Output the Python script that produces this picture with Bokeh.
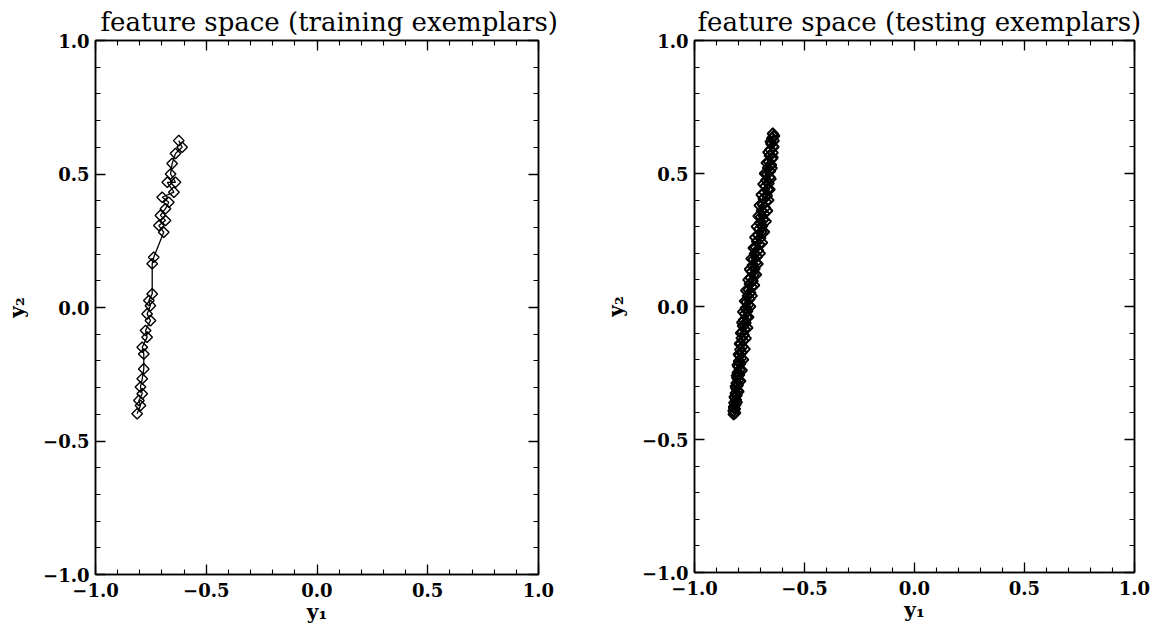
import numpy as np
from bokeh.plotting import figure
from bokeh.layouts import row
from bokeh.models import Range1d, LinearAxis, FixedTicker, CustomJSTickFormatter
from bokeh.embed import file_html
from bokeh.resources import INLINE

# ---- data ----
train_x = [-0.624, -0.609, -0.639, -0.654, -0.661, -0.639, -0.676, -0.646, -0.699, -0.669,
           -0.684, -0.707, -0.684, -0.714, -0.692, -0.737, -0.744, -0.744, -0.759, -0.752,
           -0.767, -0.752, -0.774, -0.767, -0.789, -0.782, -0.782, -0.789, -0.797, -0.789,
           -0.804, -0.797, -0.812]
train_y = [0.625, 0.600, 0.577, 0.539, 0.500, 0.469, 0.469, 0.432, 0.413, 0.394,
           0.370, 0.345, 0.326, 0.307, 0.282, 0.188, 0.164, 0.051, 0.026, 0.007,
           -0.024, -0.049, -0.086, -0.111, -0.149, -0.174, -0.230, -0.267, -0.298, -0.323,
           -0.348, -0.367, -0.398]

test_y = [-0.405, -0.398, -0.392, -0.385, -0.377, -0.370, -0.362, -0.351, -0.343, -0.334,
          -0.326, -0.315, -0.307, -0.296, -0.288, -0.276, -0.268, -0.257, -0.249, -0.238,
          -0.226, -0.215, -0.206, -0.194, -0.185, -0.173, -0.162, -0.151, -0.140, -0.128,
          -0.119, -0.107, -0.096, -0.085, -0.073, -0.062, -0.051, -0.040, -0.028, -0.017,
          -0.006, 0.006, 0.017, 0.028, 0.040, 0.051, 0.063, 0.074, 0.085, 0.096,
          0.108, 0.119, 0.131, 0.142, 0.154, 0.165, 0.177, 0.188, 0.199, 0.211,
          0.222, 0.234, 0.245, 0.257, 0.268, 0.280, 0.291, 0.303, 0.314, 0.326,
          0.337, 0.349, 0.360, 0.371, 0.383, 0.394, 0.406, 0.417, 0.429, 0.440,
          0.452, 0.463, 0.475, 0.486, 0.498, 0.509, 0.521, 0.532, 0.544, 0.555,
          0.567, 0.578, 0.590, 0.601, 0.612, 0.623, 0.633, 0.642, 0.650]
test_x = [-0.822, -0.818, -0.823, -0.816, -0.820, -0.814, -0.819, -0.811, -0.816, -0.808,
          -0.813, -0.805, -0.811, -0.803, -0.809, -0.800, -0.806, -0.797, -0.804, -0.795,
          -0.801, -0.792, -0.798, -0.788, -0.795, -0.786, -0.792, -0.782, -0.789, -0.779,
          -0.786, -0.776, -0.783, -0.772, -0.780, -0.768, -0.776, -0.764, -0.771, -0.760,
          -0.767, -0.756, -0.763, -0.750, -0.758, -0.746, -0.754, -0.740, -0.749, -0.736,
          -0.745, -0.731, -0.740, -0.727, -0.736, -0.722, -0.731, -0.716, -0.726, -0.711,
          -0.721, -0.706, -0.716, -0.701, -0.711, -0.696, -0.706, -0.692, -0.702, -0.688,
          -0.698, -0.683, -0.694, -0.679, -0.690, -0.675, -0.686, -0.671, -0.682, -0.667,
          -0.678, -0.663, -0.674, -0.659, -0.670, -0.656, -0.666, -0.652, -0.662, -0.649,
          -0.658, -0.645, -0.655, -0.643, -0.651, -0.640, -0.647, -0.638, -0.644]

test2_y = [-0.40, -0.38, -0.36, -0.34, -0.32, -0.30, -0.28, -0.26, -0.24, -0.22,
           -0.20, -0.18, -0.16, -0.14, -0.12, -0.10, -0.08, -0.06, -0.04, -0.02,
           0.00, 0.02, 0.04, 0.06, 0.08, 0.10, 0.12, 0.14, 0.16, 0.18,
           0.20, 0.22, 0.24, 0.26, 0.28, 0.30, 0.32, 0.34, 0.36, 0.38,
           0.40, 0.42, 0.44, 0.46, 0.48, 0.50, 0.52, 0.54, 0.56, 0.58,
           0.60, 0.62, 0.64]
test2_x = [-0.815, -0.821, -0.808, -0.818, -0.800, -0.813, -0.792, -0.808, -0.785, -0.804,
           -0.779, -0.799, -0.772, -0.794, -0.767, -0.789, -0.760, -0.783, -0.755, -0.779,
           -0.747, -0.771, -0.740, -0.765, -0.729, -0.755, -0.720, -0.748, -0.713, -0.741,
           -0.703, -0.731, -0.693, -0.724, -0.684, -0.717, -0.676, -0.709, -0.670, -0.704,
           -0.664, -0.695, -0.659, -0.687, -0.654, -0.680, -0.649, -0.672, -0.645, -0.664,
           -0.641, -0.654, -0.640]

major_ticks = [-1.0, -0.5, 0.0, 0.5, 1.0]
minor_ticks = [round(-1.0 + 0.1 * i, 1) for i in range(21)]
titles = ["feature space (training exemplars)", "feature space (testing exemplars)"]
x_label = "y\u2081"
y_label = "y\u2082"

SERIF = "DejaVu Serif"
FMT = "return tick.toFixed(1).replace('-', '\\u2212');"


def style_axis(ax, labels=True):
    ax.ticker = FixedTicker(ticks=major_ticks, minor_ticks=minor_ticks)
    ax.major_tick_in = 10
    ax.major_tick_out = 0
    ax.minor_tick_in = 5
    ax.minor_tick_out = 0
    ax.axis_line_color = "black"
    ax.axis_line_width = 1.5
    ax.major_tick_line_width = 1.3
    ax.minor_tick_line_width = 1.1
    ax.major_label_text_font = SERIF
    ax.major_label_text_font_style = "bold"
    ax.major_label_text_font_size = "18px"
    ax.major_label_text_color = "black"
    ax.axis_label_text_font = SERIF
    ax.axis_label_text_font_style = "bold"
    ax.axis_label_text_font_size = "20px"
    ax.axis_label_text_color = "black"
    if labels:
        ax.formatter = CustomJSTickFormatter(code=FMT)
    else:
        ax.formatter = CustomJSTickFormatter(code="return ''")
        ax.major_label_text_font_size = "0px"
        ax.major_label_standoff = 0


def make_fig(title, series, left, fw, right, top, fh, bottom, offset, lw, mlw):
    p = figure(width=left + fw + right, height=top + fh + bottom,
               frame_width=fw, frame_height=fh,
               x_range=Range1d(-1, 1), y_range=Range1d(-1, 1),
               output_backend="svg", toolbar_location=None,
               min_border_left=left, min_border_right=right,
               min_border_top=top, min_border_bottom=bottom,
               x_axis_type=None, y_axis_type=None)
    p.grid.visible = False
    p.outline_line_color = "black"
    p.outline_line_width = 1.5
    p.background_fill_color = "white"
    p.border_fill_color = "white"

    xb = LinearAxis(axis_label=x_label)
    style_axis(xb)
    xb.major_label_standoff = 8
    xb.axis_label_standoff = 0
    p.add_layout(xb, "below")
    yl = LinearAxis(axis_label=y_label)
    style_axis(yl)
    yl.major_label_standoff = 6
    yl.axis_label_standoff = 11
    p.add_layout(yl, "left")
    xt = LinearAxis()
    style_axis(xt, labels=False)
    p.add_layout(xt, "above")
    yr = LinearAxis()
    style_axis(yr, labels=False)
    p.add_layout(yr, "right")

    p.title.text = title
    p.title.text_font = SERIF
    p.title.text_font_style = "normal"
    p.title.text_font_size = "26px"
    p.title.text_color = "black"
    p.title.align = "left"
    p.title.offset = offset
    p.title.standoff = 7

    for xs, ys in series:
        p.line(xs, ys, line_color="black", line_width=lw)
        p.scatter(xs, ys, marker="square", angle=np.pi / 4, size=7.5,
                  fill_color=None, line_color="black", line_width=mlw)
    return p


p1 = make_fig(titles[0], [(train_x, train_y)], 95, 443, 42, 40, 534, 50, 5, 1.3, 1.4)
p2 = make_fig(titles[1], [(test_x, test_y), (test2_x, test2_y)], 114, 440, 18, 40, 532, 52, 3, 1.8, 1.9)

layout = row(p1, p2)
open("out.html", "w").write(file_html(layout, INLINE))
